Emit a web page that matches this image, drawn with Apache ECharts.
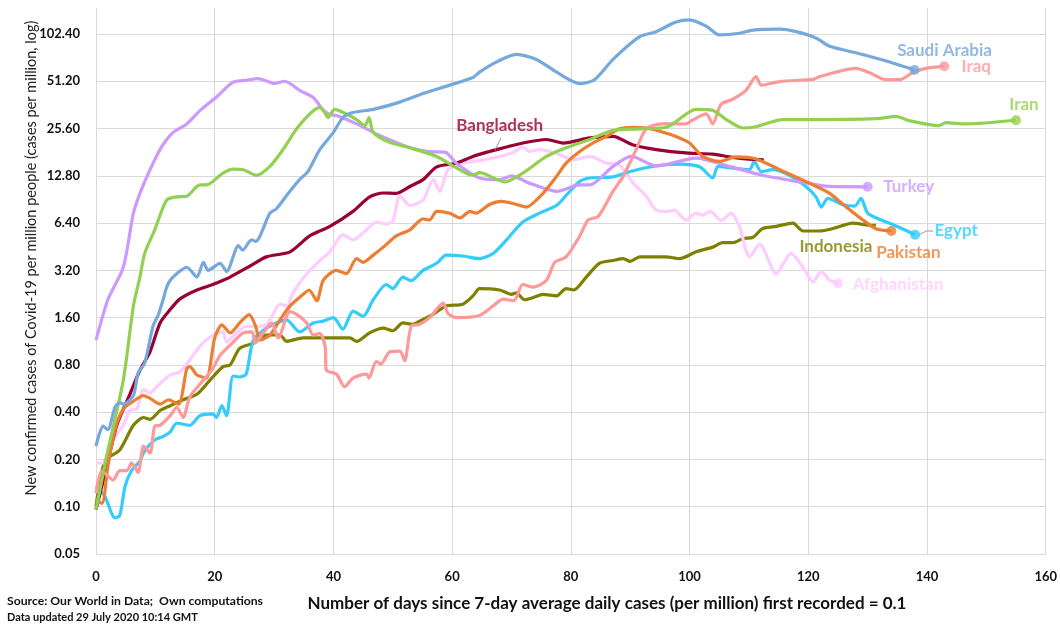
<!DOCTYPE html>
<html><head><meta charset="utf-8">
<script src="https://cdn.jsdelivr.net/npm/echarts@6/dist/echarts.min.js"></script>
</head><body style="margin:0;background:#fff">
<div id="c" style="width:1060px;height:625px"></div>
<script>
// ---- data (days since threshold, new cases per million, 7-day avg) ----
const countries = ['Saudi Arabia','Iraq','Iran','Bangladesh','Turkey','Egypt','Pakistan','Indonesia','Afghanistan'];
const colors = ['#77a8dc','#ff9999','#92d050','#990033','#cc99ff','#33ccff','#ed7d31','#808000','#ffccff'];
const yTicks = ['0.05','0.10','0.20','0.40','0.80','1.60','3.20','6.40','12.80','25.60','51.20','102.40'];
const xTicks = [0,20,40,60,80,100,120,140,160];

const saudiArabia = [[0,0.243],[1.2,0.326],[2,0.31],[3.2,0.43],[4,0.46],[4.6,0.45],[6.3,0.51],[7.1,0.71],[8.2,0.82],[9.6,1.41],[10.5,1.67],[11.3,2.08],[11.9,2.5],[12.5,2.77],[13.6,3.05],[15.3,3.35],[17,2.9],[18.1,3.6],[18.9,3.2],[20.9,3.55],[22,3.15],[24,4.6],[24.7,4.3],[26.2,5.0],[26.9,4.9],[29.3,7.4],[30.4,7.9],[32.4,9.9],[34.3,12.1],[35.7,13.6],[37.7,18.8],[40,24.2],[41.6,30.1],[43.3,32.4],[46.7,33.9],[51.2,37.7],[55.1,42.8],[59.6,48.4],[63.5,54.1],[64.6,58.5],[67.5,68],[70.8,75.9],[74.2,70.5],[77.6,58.5],[81.5,49.5],[84,52.4],[87.1,70.5],[91.6,98.4],[94.4,106],[97.7,122],[100,126],[102.8,115],[105,101],[108.4,103.5],[110.7,108.5],[115.2,110],[118,106],[121.3,96.5],[123.6,85.5],[128,77.8],[133.7,68],[137.9,60.5]];
const iraq = [[0,0.122],[1,0.169],[2.9,0.148],[4,0.17],[5.2,0.17],[6,0.19],[7.1,0.165],[8,0.243],[9.1,0.22],[9.9,0.326],[10.8,0.33],[12.5,0.38],[13.6,0.43],[14.7,0.37],[15.8,0.5],[18.1,0.64],[19.7,0.76],[20.9,0.92],[22.6,1.07],[24.8,1.28],[26.3,1.3],[26.8,1.10],[28.2,1.28],[29.6,1.48],[30.7,1.19],[32.1,1.63],[32.6,1.75],[33.8,1.68],[35.5,1.48],[36.6,1.24],[37.7,1.27],[38.6,1.05],[38.8,0.74],[40.5,0.7],[41.9,0.58],[43.3,0.66],[45.6,0.7],[46,0.66],[47.2,0.84],[48,0.81],[49.5,0.97],[51.2,0.98],[52,0.85],[53.1,1.41],[54.5,1.45],[56.2,1.6],[58.5,1.98],[59.3,1.7],[60.7,1.6],[64.6,1.65],[66.9,1.9],[68.6,2.1],[70.4,2.05],[71.9,2.6],[73.7,2.5],[75.9,2.77],[77.3,3.6],[79.2,3.9],[81.5,5.3],[82.9,6.7],[84.6,7.05],[87.1,10.2],[88.8,12.7],[91,18.8],[92.7,25.5],[95.5,27.4],[99.4,27.4],[100.5,29],[102.8,31.7],[103.9,27.4],[105.3,36.5],[107.3,39.4],[109.5,44.8],[111.2,54.8],[112.1,48.4],[115.2,51],[120.8,52.7],[121.9,54.8],[128,61.8],[130.3,58.2],[133.1,52.4],[135.4,52.4],[137.6,58.2],[139.8,61.8],[142.9,63.9]];
const iran = [[0,0.096],[1.8,0.21],[4.6,0.64],[6.3,1.9],[7.4,2.9],[8.2,4.1],[9.9,5.8],[11.9,8.96],[13.6,9.4],[15.3,9.5],[17.5,11.2],[18.6,11.2],[21.4,13.3],[23.1,14.1],[24.8,14.0],[27,12.9],[29.3,14.7],[31.5,18.8],[33.8,25.5],[36,31.7],[37.7,34.9],[38.4,33],[39.1,30.1],[40.2,33.9],[42.2,31.7],[43.9,29.2],[45.3,26.7],[46,30.1],[46.7,24.2],[49.5,20.9],[52.9,19.3],[57.4,17.0],[60.7,14.4],[63.5,12.9],[64.6,13.4],[68.9,11.7],[71.9,13.3],[75.9,17.0],[79.2,19.3],[83.2,21.8],[87.1,24.9],[91.6,25.5],[96.1,26.1],[101.1,33.9],[103.9,33.4],[106.2,29.2],[109,25.8],[111.2,26.3],[115.7,29.2],[120.8,29.2],[131.4,29.6],[134.8,30.6],[137,28.7],[142,26.7],[143.2,27.9],[146.6,27.4],[155,28.9]];
const bangladesh = [[0,0.096],[1.8,0.18],[3.5,0.33],[5.7,0.52],[7.4,0.74],[9.1,0.97],[10.8,1.48],[12.5,1.8],[14.1,2.1],[17,2.4],[19.7,2.6],[21.4,2.77],[22.6,2.9],[25.9,3.4],[28.7,3.9],[32.7,4.2],[36,5.3],[39.4,6.1],[43.3,7.6],[46.1,9.4],[48.4,9.95],[50.6,9.9],[52.9,10.95],[55.1,12.1],[57.4,14.6],[60.7,15.4],[63.5,17],[66.3,18.3],[67.5,18.8],[71.9,20.7],[75.9,21.8],[78.7,20.7],[83.2,22.3],[87.1,22.8],[90.5,20.1],[94.4,18.8],[99.4,17.9],[103.9,17.6],[106.7,16.9],[109.5,16.4],[112.5,16.2]];
const turkey = [[0,1.15],[2,2.08],[4.6,3.35],[6.3,7.4],[7.4,9.9],[9.1,14.0],[11.1,19.7],[13,24.2],[15.3,27.4],[17.5,33.3],[20.3,40.7],[23.1,50.5],[25.4,52],[27.3,53.3],[30.1,49.6],[31.8,51.2],[34.3,44.8],[36.6,40.3],[38.3,33.5],[39.4,31.4],[40.5,31.0],[43.9,27.4],[47.8,23.1],[52.3,19.7],[55.7,18.3],[58.8,18.1],[60.7,15.4],[64.6,12.4],[68,12.1],[70,12.8],[73,11.5],[77.6,10.2],[81.5,11.2],[83.2,11.2],[87.1,14.7],[90.2,17.0],[94.4,14.8],[101.1,16.6],[106.7,14.7],[112.3,12.9],[118,11.8],[123.6,10.95],[130,10.9]];
const egypt = [[0,0.135],[1.5,0.116],[3.2,0.085],[4,0.088],[4.9,0.135],[6,0.17],[7.4,0.195],[8,0.22],[9.1,0.25],[10.2,0.27],[11.3,0.28],[12.5,0.3],[13.6,0.34],[15.8,0.33],[17.5,0.38],[19.7,0.39],[20.3,0.37],[21.2,0.44],[22,0.38],[23.1,0.68],[24.2,0.67],[25.3,0.7],[26.5,1.15],[28.7,1.37],[30.4,1.48],[32.1,1.55],[34.3,1.3],[36.6,1.48],[38.3,1.52],[40,1.6],[41.6,1.35],[43.3,1.76],[45,1.63],[46.7,2.08],[48.9,2.6],[50,2.45],[51.7,2.9],[53.1,2.75],[55.1,3.2],[57.4,3.55],[59,4.0],[61.8,3.95],[64.6,3.8],[66.9,4.1],[69.1,4.97],[71.9,6.5],[74.7,7.4],[77.6,8.3],[79.2,9.6],[81.5,11.8],[83.2,12.4],[87.1,12.6],[89.9,13.6],[93.8,14.7],[98.3,15.2],[101.7,14.6],[103.9,12.4],[104.8,14.7],[107.3,14.3],[110.1,14.0],[110.9,15.8],[112.1,13.6],[114,14.0],[116.8,12.9],[119.6,10.95],[121.3,9.4],[122.2,8.1],[123.3,9.2],[125.8,8.4],[127.8,8.2],[128.9,9.2],[130,7.4],[132.3,6.7],[134.5,6.2],[136.2,5.8],[138,5.4]];
const pakistan = [[0,0.11],[1,0.105],[2,0.18],[3.2,0.31],[4.6,0.42],[6.3,0.47],[8,0.51],[9.1,0.49],[10.8,0.45],[12.2,0.48],[13.9,0.45],[15.3,0.76],[15.8,0.78],[17,0.69],[18.6,0.66],[20,1.19],[21.2,1.44],[22.6,1.28],[24.2,1.48],[25.8,1.67],[26.9,1.41],[27.6,1.15],[29.3,1.24],[31,1.55],[32.7,1.9],[34.9,2.25],[35.9,2.4],[37.2,2.05],[38.3,2.77],[40.5,3.2],[42.2,3.05],[43.9,3.8],[45,3.6],[46.7,4.0],[48.4,4.5],[50.6,5.3],[52.9,5.8],[55.1,6.8],[56.2,6.7],[57.4,7.6],[59.6,7.4],[61.3,6.9],[63,7.6],[64,7.4],[66.3,8.4],[68.3,8.8],[70.4,8.5],[72.5,8.1],[75.3,9.9],[77.6,12.7],[79.2,15.4],[81.5,18.3],[83.7,20.7],[86,22.8],[88.2,25.5],[90.5,26.1],[92.7,25.8],[95,24.6],[97.7,22.8],[100,20.7],[102.2,17.0],[105,15.8],[107.8,16.9],[111.2,16.4],[115.2,14.0],[120.8,11.2],[123.6,9.9],[126.4,8.1],[129.2,6.7],[131.4,5.9],[134,5.7]];
const indonesia = [[0,0.1],[1.5,0.195],[4,0.23],[6.3,0.33],[8,0.37],[9.1,0.36],[10.8,0.41],[12.5,0.44],[14.7,0.48],[17,0.52],[19.2,0.64],[21.4,0.78],[22.6,0.8],[24.2,1.02],[26.5,1.1],[28.7,1.24],[31,1.24],[32.1,1.13],[34.9,1.19],[38.3,1.19],[42.8,1.19],[43.9,1.13],[46.1,1.28],[48.4,1.37],[50,1.32],[51.7,1.48],[53.3,1.45],[54.5,1.52],[56.8,1.68],[59,1.9],[61.8,1.95],[63.5,2.2],[64.6,2.45],[68,2.4],[70,2.25],[70.8,2.3],[72.2,2.08],[73.7,2.15],[75.3,2.25],[77.6,2.2],[79.2,2.45],[80.5,2.4],[82.6,2.9],[84.8,3.55],[87.1,3.7],[88.8,3.8],[90,3.65],[91.6,3.9],[96,3.9],[98.3,3.8],[101.1,4.2],[103.9,4.5],[105.6,4.8],[107.3,4.8],[109,5.1],[110.7,5.2],[112.3,5.9],[114.6,6.1],[117.4,6.4],[119.1,5.7],[121.9,5.7],[124.1,5.9],[127.5,6.4],[130.3,6.2],[131.4,6.2]];
const afghanistan = [[0,0.19],[1.2,0.19],[2.4,0.25],[3.5,0.29],[4.6,0.33],[5.7,0.41],[6.9,0.42],[8,0.56],[9.1,0.53],[10.2,0.58],[12.5,0.69],[14.1,0.72],[15.8,0.86],[17.5,1.05],[19.7,1.24],[21.4,1.3],[22,1.12],[23.7,1.28],[25.4,1.41],[28.2,1.41],[29.3,1.55],[31,1.95],[32.1,1.9],[33.2,2.3],[34.9,2.85],[37.2,3.55],[39.4,4.2],[41.6,5.4],[43.3,5.0],[45.6,5.8],[47.2,6.5],[48.9,6.3],[50,6.6],[51.2,9.5],[52.9,8.3],[55.1,8.96],[56.8,12.1],[57.9,10.2],[59.3,14.0],[61.8,15.4],[64.6,16],[68,17.0],[70.3,18.0],[71.9,19.5],[73,18.3],[74.7,18.8],[77.6,17.8],[80.4,16.2],[83.2,17.0],[86,15.4],[88.2,15.0],[90.5,11.5],[92.7,9.5],[94.4,7.75],[96.4,7.6],[97.4,7.75],[99.4,6.7],[101.1,7.4],[102.2,7.2],[103.5,7.6],[105.3,6.65],[107,7.4],[108.4,6.1],[110.1,3.9],[111.8,4.7],[114.6,3.05],[117.1,4.1],[119.1,3.35],[120.8,2.7],[122.2,3.15],[123.6,2.77],[125,2.65]];

const seriesData = [saudiArabia, iraq, iran, bangladesh, turkey, egypt, pakistan, indonesia, afghanistan];

// ---- build chart ----
const BASE = 0.05;
const toLog = v => Math.log2(v / BASE);
const FONT = 'Lato, "Open Sans", sans-serif';

// label offsets relative to the end dot (Bangladesh is labelled mid-line)
const labelOffset = {
  'Saudi Arabia':[30,-19], 'Iraq':[32,0], 'Iran':[8,-16], 'Bangladesh':[3,-24],
  'Turkey':[41,0], 'Egypt':[41,-4], 'Pakistan':[17,22], 'Indonesia':[-40,21], 'Afghanistan':[60,1]
};
const drawOrder = [7,8,5,3,4,6,1,2,0];

const series = [];
drawOrder.forEach(i => {
  const name = countries[i];
  const d = seriesData[i].map(p => [p[0], toLog(p[1])]);
  series.push({
    type:'line', name, data:d, showSymbol:false, smooth:0.25,
    lineStyle:{color:colors[i], width:3.2}, itemStyle:{color:colors[i]},
    z:2, silent:true
  });
});
countries.forEach((name, i) => {
  const src = seriesData[i];
  let pt, size = 10;
  if (name === 'Bangladesh') { pt = src.find(p => p[0] >= 67); size = 0; }
  else { pt = src[src.length-1]; }
  if (name === 'Indonesia') size = 0;
  series.push({
    type:'scatter', name:name+' label', data:[[pt[0], toLog(pt[1])]],
    symbol:'circle', symbolSize:size, itemStyle:{color:colors[i]}, z:5, silent:true,
    label:{show:true, formatter:name, position:'inside', offset:labelOffset[name],
      color:colors[i], fontFamily:FONT, fontWeight:'bold', fontSize:17}
  });
});

const chart = echarts.init(document.getElementById('c'));
chart.setOption({
  animation:false,
  backgroundColor:'#fff',
  grid:{left:96, right:13, top:8, bottom:71, containLabel:false},
  xAxis:{type:'value', min:xTicks[0], max:xTicks[xTicks.length-1], interval:20,
    axisLine:{show:false}, axisTick:{show:false},
    splitLine:{show:true, lineStyle:{color:'#d9d9d9', width:1}},
    axisLabel:{margin:16, color:'#111', fontFamily:FONT, fontWeight:'bold', fontSize:13}},
  yAxis:{type:'value', min:0, max:11.55, interval:1,
    axisLine:{show:false}, axisTick:{show:false},
    splitLine:{show:true, showMaxLine:false, lineStyle:{color:'#d9d9d9', width:1}},
    axisLabel:{margin:16, showMaxLabel:false, color:'#111', fontFamily:FONT, fontWeight:'bold', fontSize:13,
      formatter: v => (Math.abs(v - Math.round(v)) < 1e-6 && yTicks[Math.round(v)]) ? yTicks[Math.round(v)] : ''}},
  series,
  graphic:[
    {type:'text', x:31, y:258, rotation:Math.PI/2,
      style:{text:'New confirmed cases of Covid-19 per million people (cases per million, log)', x:0, y:0,
        align:'center', verticalAlign:'middle', fill:'#222', font:'14.5px '+FONT}},
    {type:'text', style:{text:'Number of days since 7-day average daily cases (per million) first recorded = 0.1',
        x:607, y:604, align:'center', verticalAlign:'middle', fill:'#111', font:'bold 17px '+FONT}},
    {type:'text', style:{text:'Source: Our World in Data;  Own computations', x:7, y:601,
        verticalAlign:'middle', fill:'#111', font:'bold 12.2px '+FONT}},
    {type:'text', style:{text:'Data updated 29 July 2020 10:14 GMT', x:7, y:617,
        verticalAlign:'middle', fill:'#111', font:'bold 11px '+FONT}},
    {type:'polyline', shape:{points:[[501,138],[495,150]]}, style:{stroke:'#999', lineWidth:1}, z:10},
    {type:'polyline', shape:{points:[[919,235],[926,231],[933,231]]}, style:{stroke:'#999', lineWidth:1}, z:10}
  ]
});
</script>
</body></html>
